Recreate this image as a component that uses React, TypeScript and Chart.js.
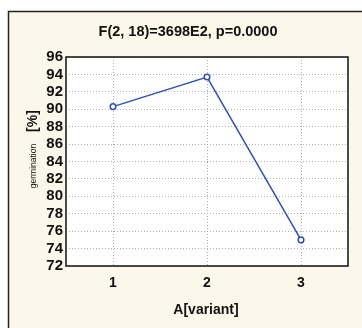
import React, { useEffect, useRef } from "react";
import { Chart, registerables } from "chart.js";

Chart.register(...registerables);

const categories = ["1", "2", "3"];
const germination = [90.3, 93.7, 75.0];
const yMin = 72;
const yMax = 96;
const yStep = 2;
const chartTitle = "F(2, 18)=3698E2, p=0.0000";
const xTitle = "A[variant]";
const yTitleSmall = "germination";
const yTitleBig = "[%]";

const W = 362;
const H = 328;

const framePlugin = {
  id: "frame",
  beforeDraw(chart: any) {
    const ctx = chart.ctx;
    ctx.save();
    ctx.fillStyle = "#ffffff";
    ctx.fillRect(0, 0, W, H);
    ctx.fillStyle = "#fbf7ea";
    ctx.fillRect(8, 11, W - 8, H - 11);
    ctx.strokeStyle = "#222";
    ctx.lineWidth = 1.5;
    ctx.beginPath();
    ctx.moveTo(8.5, H);
    ctx.lineTo(8.5, 11.5);
    ctx.lineTo(W, 11.5);
    ctx.stroke();
    const a = chart.chartArea;
    ctx.fillStyle = "#ffffff";
    ctx.fillRect(a.left, a.top, a.right - a.left, a.bottom - a.top);
    ctx.restore();
  },
  afterDraw(chart: any) {
    const ctx = chart.ctx;
    const a = chart.chartArea;
    ctx.save();
    ctx.strokeStyle = "#111";
    ctx.lineWidth = 1.5;
    ctx.strokeRect(a.left, a.top, a.right - a.left, a.bottom - a.top);
    ctx.fillStyle = "#111";
    ctx.textAlign = "center";
    ctx.textBaseline = "middle";
    ctx.font = "bold 14.5px 'Liberation Sans', Arial, sans-serif";
    ctx.fillText(chartTitle, 188, 32);
    ctx.font = "bold 14px 'Liberation Sans', Arial, sans-serif";
    ctx.fillText(xTitle, 206, 310);
    ctx.translate(33, 0);
    ctx.rotate(-Math.PI / 2);
    ctx.font = "8.5px 'Liberation Sans', Arial, sans-serif";
    ctx.fillText(yTitleSmall, -166, 1);
    ctx.font = "bold 14px 'Liberation Sans', Arial, sans-serif";
    ctx.fillText(yTitleBig, -121, 0);
    ctx.restore();
  },
};

export default function App() {
  const ref = useRef<HTMLCanvasElement>(null);
  useEffect(() => {
    const chart = new Chart(ref.current!, {
      type: "line",
      data: {
        labels: categories,
        datasets: [
          {
            data: germination,
            borderColor: "#2f4fb4",
            borderWidth: 1.5,
            pointStyle: "circle",
            pointRadius: 2.8,
            pointBorderWidth: 1.5,
            pointBorderColor: "#2f4fb4",
            pointBackgroundColor: "#ffffff",
            tension: 0,
          },
        ],
      },
      options: {
        animation: false,
        responsive: false,
        devicePixelRatio: 1,
        layout: { padding: { left: 0, right: 14, top: 57, bottom: 0 } },
        plugins: { legend: { display: false }, title: { display: false }, tooltip: { enabled: false } },
        scales: {
          x: {
            type: "category",
            offset: true,
            grid: { offset: false, color: "#b0b0b0", lineWidth: 1, drawTicks: false },
            border: { display: false, dash: [1, 2] },
            ticks: {
              color: "#111",
              font: { family: "'Liberation Sans', Arial, sans-serif", size: 14, weight: "bold" },
              padding: 9,
            },
            afterFit(scale: any) {
              scale.height = 62;
            },
          },
          y: {
            min: yMin,
            max: yMax,
            grid: { color: "#b0b0b0", lineWidth: 1, drawTicks: false },
            border: { display: false, dash: [1, 2] },
            ticks: {
              stepSize: yStep,
              autoSkip: false,
              color: "#111",
              font: { family: "'Liberation Sans', Arial, sans-serif", size: 15, weight: "bold" },
              padding: 3,
            },
            afterFit(scale: any) {
              scale.width = 66;
            },
          },
        },
      },
      plugins: [framePlugin],
    } as any);
    return () => chart.destroy();
  }, []);
  return (
    <div style={{ position: "fixed", left: 0, top: 0, width: W, height: H }}>
      <canvas ref={ref} width={W} height={H} style={{ display: "block" }} />
    </div>
  );
}
